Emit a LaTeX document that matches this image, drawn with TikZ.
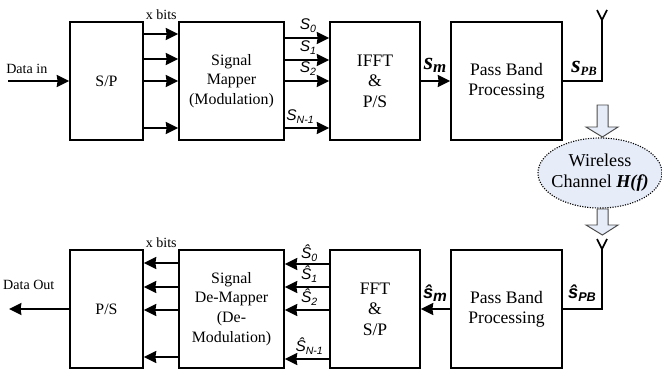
\documentclass[tikz,border=0pt]{standalone}
\usepackage{fontspec}
\setmainfont{Liberation Serif}
\setsansfont{Liberation Sans}
\usetikzlibrary{arrows.meta,shapes.geometric}
\definecolor{channelblue}{HTML}{E6ECF8}
\newcommand{\lowsub}[2]{\raisebox{-2pt}{\fontsize{#1}{#1}\selectfont #2}}
\tikzset{
  blockbox/.style={draw,line width=1.2pt,minimum height=2.95cm,inner sep=0pt,align=center},
  bigtext/.style={font=\fontsize{12.5}{14.5}\selectfont},
  smalltext/.style={font=\fontsize{11.3}{14}\selectfont},
  labeltext/.style={font=\fontsize{10}{12}\selectfont,inner sep=0pt},
  symtext/.style={font=\fontsize{11}{12}\selectfont\sffamily\itshape,inner sep=0pt},
  boldserif/.style={inner sep=0pt,font=\fontsize{17}{18}\selectfont\bfseries\itshape},
  boldsans/.style={inner sep=0pt,font=\fontsize{13}{15}\selectfont\sffamily\bfseries\itshape},
  sig/.style={line width=1.2pt,-{Stealth[length=3.1mm,width=3mm,inset=0.6pt]}},
  wire/.style={line width=1.2pt},
  blockarrow/.style={draw=black!70,line width=0.7pt,fill=channelblue}
}
\begin{document}
\begin{tikzpicture}
    \useasboundingbox (0,0) rectangle (16.55,9.35);

    % transmitter
    \node[blockbox,smalltext,minimum width=1.825cm] (txsp) at (2.6625,7.325) {S/P};
    \node[blockbox,smalltext,minimum width=2.625cm] (txmap) at (5.7875,7.325) {Signal\\Mapper\\(Modulation)};
    \node[blockbox,bigtext,minimum width=2.25cm] (txfft) at (9.375,7.325) {IFFT\\\&\\P/S};
    \node[blockbox,bigtext,minimum width=2.775cm] (txpb) at (12.6625,7.325) {Pass Band\\Processing};

    \coordinate (datain) at (0.2,7.325);
    \draw[sig] (datain) -- (txsp);
    \draw[sig] (txsp.east |- 0,8.5) -- (txmap.west |- 0,8.5);
    \draw[sig] (txsp.east |- 0,7.875) -- (txmap.west |- 0,7.875);
    \draw[sig] (txsp.east |- 0,7.325) -- (txmap.west |- 0,7.325);
    \draw[sig] (txsp.east |- 0,6.15) -- (txmap.west |- 0,6.15);
    \draw[sig] (txmap.east |- 0,8.4) -- (txfft.west |- 0,8.4);
    \draw[sig] (txmap.east |- 0,7.85) -- (txfft.west |- 0,7.85);
    \draw[sig] (txmap.east |- 0,7.325) -- (txfft.west |- 0,7.325);
    \draw[sig] (txmap.east |- 0,6.15) -- (txfft.west |- 0,6.15);
    \draw[sig] (txfft) -- (txpb);

    \coordinate (txant) at (15.05,8.85);
    \draw[wire] (txpb.east) -| (txant);
    \draw[wire] (14.925,9.1) -- (txant) -- (15.175,9.1);

    \node[labeltext] (datainlabel) at (0.67,7.625) {Data in};
    \node[labeltext] (txbits) at (4.03,8.975) {x bits};
    \node[symtext] (txs0) at (7.7,8.7) {S\lowsub{7.5}{0}};
    \node[symtext] (txs1) at (7.7,8.15) {S\lowsub{7.5}{1}};
    \node[symtext] (txs2) at (7.7,7.625) {S\lowsub{7.5}{2}};
    \node[symtext] (txsn) at (7.5,6.425) {S\lowsub{7.5}{N-1}};
    \node[boldserif] (txsm) at (10.875,7.725) {s\lowsub{12}{m}};
    \node[boldserif] (txspb) at (14.6,7.65) {s\lowsub{9}{PB}};

    % channel
    \draw[blockarrow] (14.925,6.725) -- (15.2,6.725) -- (15.2,6.175) -- (15.45,6.175) -- (15.06,5.925)
      -- (14.65,6.175) -- (14.925,6.175) -- cycle;
    \draw[blockarrow] (14.925,4.125) -- (15.2,4.125) -- (15.2,3.725) -- (15.45,3.725) -- (15.06,3.475)
      -- (14.65,3.725) -- (14.925,3.725) -- cycle;
    \node[ellipse,draw,densely dotted,line width=0.8pt,fill=channelblue,minimum width=3.1cm,minimum height=1.75cm,inner sep=0pt] (channel) at (15,5.025) {};
    \node[align=center,inner sep=0pt,font=\fontsize{12.9}{15}\selectfont] (channeltext) at (channel) {Wireless\\Channel \textbf{\textit{H(f)}}};

    % receiver
    \node[blockbox,smalltext,minimum width=1.825cm] (rxps) at (2.6625,1.625) {P/S};
    \node[blockbox,smalltext,minimum width=2.625cm] (rxmap) at (5.7875,1.625) {Signal\\De-Mapper\\(De-\\Modulation)};
    \node[blockbox,bigtext,minimum width=2.25cm] (rxfft) at (9.375,1.625) {FFT\\\&\\S/P};
    \node[blockbox,bigtext,minimum width=2.775cm] (rxpb) at (12.6625,1.625) {Pass Band\\Processing};

    \coordinate (dataout) at (0.225,1.625);
    \draw[sig] (rxps) -- (dataout);
    \draw[sig] (rxmap.west |- 0,2.775) -- (rxps.east |- 0,2.775);
    \draw[sig] (rxmap.west |- 0,2.175) -- (rxps.east |- 0,2.175);
    \draw[sig] (rxmap.west |- 0,1.6) -- (rxps.east |- 0,1.6);
    \draw[sig] (rxmap.west |- 0,0.425) -- (rxps.east |- 0,0.425);
    \draw[sig] (rxfft.west |- 0,2.75) -- (rxmap.east |- 0,2.75);
    \draw[sig] (rxfft.west |- 0,2.175) -- (rxmap.east |- 0,2.175);
    \draw[sig] (rxfft.west |- 0,1.6) -- (rxmap.east |- 0,1.6);
    \draw[sig] (rxfft.west |- 0,0.375) -- (rxmap.east |- 0,0.375);
    \draw[sig] (rxpb) -- (rxfft);

    \coordinate (rxant) at (15.05,3.125);
    \draw[wire] (rxpb.east) -| (rxant);
    \draw[wire] (14.925,3.375) -- (rxant) -- (15.175,3.375);

    \node[labeltext] (dataoutlabel) at (0.72,2.225) {Data Out};
    \node[labeltext] (rxbits) at (4.03,3.275) {x bits};
    \node[symtext] (rxs0) at (7.73,3.025) {Ŝ\lowsub{7.5}{0}};
    \node[symtext] (rxs1) at (7.73,2.5) {Ŝ\lowsub{7.5}{1}};
    \node[symtext] (rxs2) at (7.73,1.925) {Ŝ\lowsub{7.5}{2}};
    \node[symtext] (rxsn) at (7.73,0.7) {Ŝ\lowsub{7.5}{N-1}};
    \node[boldsans] (rxsm) at (10.875,2.025) {ŝ\lowsub{11}{m}};
    \node[boldsans] (rxspb) at (14.55,2.025) {ŝ\lowsub{9}{PB}};
\end{tikzpicture}
\end{document}
